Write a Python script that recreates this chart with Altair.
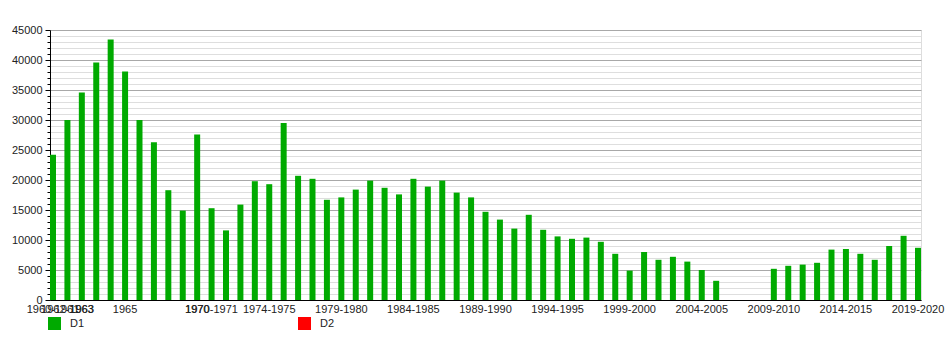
import altair as alt
import pandas as pd

seasons = [
    "1960-1961", "1962-1963", "1963", "1963-1964", "1964", "1965", "1966", "1967",
    "1968", "1969", "1970", "1970-1971", "1971-1972", "1972-1973", "1973-1974",
    "1974-1975", "1975-1976", "1976-1977", "1977-1978", "1978-1979", "1979-1980",
    "1980-1981", "1981-1982", "1982-1983", "1983-1984", "1984-1985", "1985-1986",
    "1986-1987", "1987-1988", "1988-1989", "1989-1990", "1990-1991", "1991-1992",
    "1992-1993", "1993-1994", "1994-1995", "1995-1996", "1996-1997", "1997-1998",
    "1998-1999", "1999-2000", "2000-2001", "2001-2002", "2002-2003", "2003-2004",
    "2004-2005", "2005-2006", "2006-2007", "2007-2008", "2008-2009", "2009-2010",
    "2010-2011", "2011-2012", "2012-2013", "2013-2014", "2014-2015", "2015-2016",
    "2016-2017", "2017-2018", "2018-2019", "2019-2020",
]

d1_values = [
    24200, 30000, 34600, 39600, 43400, 38100, 30000, 26300, 18300, 14900,
    27600, 15300, 11600, 15900, 19800, 19300, 29500, 20700, 20200, 16700,
    17100, 18400, 19900, 18700, 17600, 20200, 18900, 19900, 17900, 17100,
    14700, 13400, 11900, 14200, 11700, 10600, 10200, 10400, 9700, 7700,
    4900, 8000, 6700, 7200, 6400, 5000, 3200, None, None, None,
    5200, 5700, 5900, 6200, 8400, 8500, 7700, 6700, 9000, 10700,
    8700,
]

tick_labels = [
    "1960-1961", "1962-1963", "1963", "1965", "1970", "1970-1971", "1974-1975",
    "1979-1980", "1984-1985", "1989-1990", "1994-1995", "1999-2000",
    "2004-2005", "2009-2010", "2014-2015", "2019-2020",
]

series_names = ["D1", "D2"]
series_colors = ["#00aa00", "#ff0000"]

y_ticks = list(range(0, 45001, 1000))

rows = [
    {"season": s, "value": v, "serie": "D1"}
    for s, v in zip(seasons, d1_values)
    if v is not None
]
df = pd.DataFrame(rows)

label_list = "[" + ",".join("'" + t + "'" for t in tick_labels) + "]"

chart = (
    alt.Chart(df)
    .mark_bar()
    .encode(
        x=alt.X(
            "season:N",
            sort=None,
            scale=alt.Scale(domain=seasons, paddingInner=0.584, paddingOuter=0),
            axis=alt.Axis(
                title=None,
                labelAngle=0,
                ticks=False,
                labelOverlap=False,
                labelFlush=False,
                labelBound=False,
                labelPadding=3,
                labelFont="Liberation Sans",
                labelFontSize=11,
                labelColor="#222222",
                domainColor="#000000",
                labelExpr="indexof(" + label_list + ", datum.value) >= 0 ? datum.value : ''",
            ),
        ),
        y=alt.Y(
            "value:Q",
            scale=alt.Scale(domain=[0, 45000], nice=False, zero=True),
            axis=alt.Axis(
                title=None,
                values=y_ticks,
                format="d",
                labelExpr="datum.value % 5000 == 0 ? datum.label : ''",
                labelFont="Liberation Sans",
                labelFontSize=11,
                labelColor="#222222",
                labelPadding=3,
                labelOverlap=False,
                domainColor="#000000",
                tickColor="#000000",
                tickSize={"condition": {"test": "datum.value % 5000 == 0", "value": 5}, "value": 3},
                gridColor={"condition": {"test": "datum.value % 5000 == 0", "value": "#a8a8a8"}, "value": "#dedede"},
                grid=True,
            ),
        ),
        color=alt.Color(
            "serie:N",
            scale=alt.Scale(domain=series_names, range=series_colors),
            legend=alt.Legend(
                title=None,
                orient="none",
                legendX=-2,
                legendY=287,
                direction="horizontal",
                symbolType="square",
                symbolSize=169,
                symbolStrokeWidth=0,
                symbolOpacity=1,
                labelFont="Liberation Sans",
                labelFontSize=11,
                labelColor="#222222",
                labelOffset=9,
                columnPadding=213,
            ),
        ),
    )
    .properties(
        width=871,
        height=270,
        padding={"left": 50, "top": 30, "right": 29, "bottom": 50},
        autosize=alt.AutoSizeParams(type="none"),
    )
    .configure_view(stroke=None)
    .configure(background="#ffffff")
)

chart.save("out.html", embed_options={"renderer": "svg", "actions": False})
